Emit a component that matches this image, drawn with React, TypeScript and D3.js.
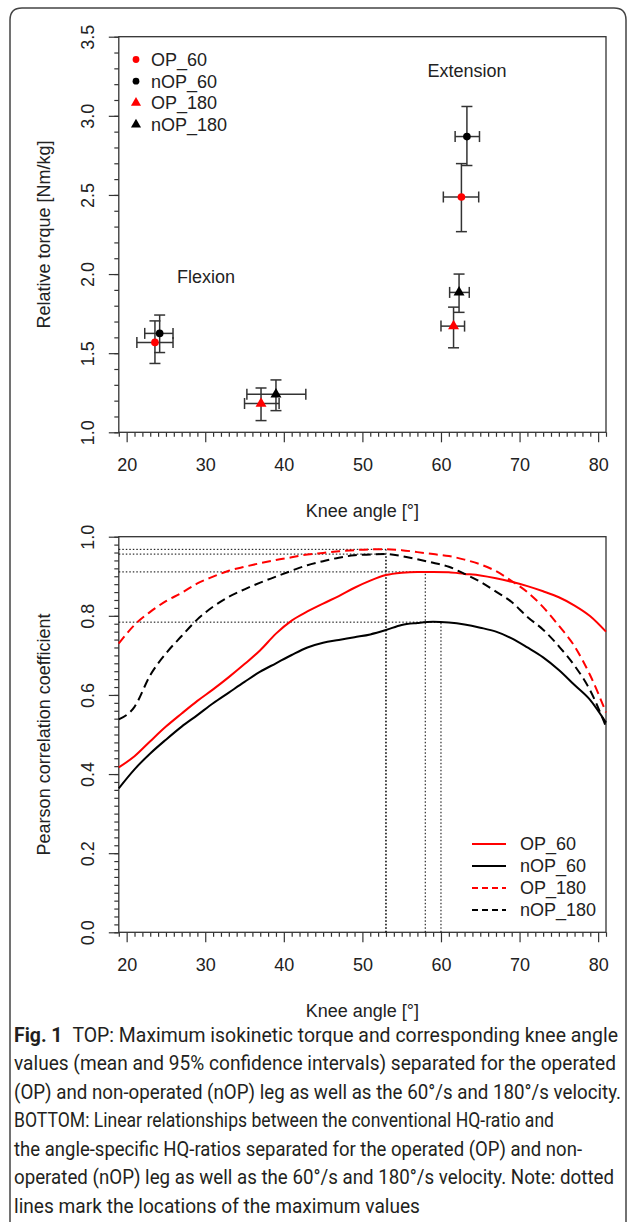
import { useEffect, useRef } from "react";
import * as d3 from "d3";

// ---- top panel: peak torque, mean and 95% CI ----
const groups = ["OP_60", "nOP_60", "OP_180", "nOP_180"];
const groupColor = ["#ff0000", "#000000", "#ff0000", "#000000"];
const groupShape = ["circle", "circle", "triangle", "triangle"];

const flexAngle = [23.6, 24.2, 37.1, 39.0];
const flexAngleLo = [21.3, 22.3, 35.0, 35.3];
const flexAngleHi = [25.9, 25.9, 39.4, 42.8];
const flexTorque = [1.568, 1.625, 1.182, 1.24];
const flexTorqueLo = [1.435, 1.504, 1.074, 1.137];
const flexTorqueHi = [1.704, 1.741, 1.28, 1.331];

const extAngle = [62.6, 63.3, 61.6, 62.3];
const extAngleLo = [60.3, 61.8, 60.0, 61.1];
const extAngleHi = [64.8, 64.9, 63.0, 63.6];
const extTorque = [2.487, 2.869, 1.671, 1.884];
const extTorqueLo = [2.268, 2.686, 1.534, 1.758];
const extTorqueHi = [2.698, 3.059, 1.791, 2.0];

const xTicks = [20, 30, 40, 50, 60, 70, 80];
const topYTicks = [1.0, 1.5, 2.0, 2.5, 3.0, 3.5];
const bottomYTicks = [0, 0.2, 0.4, 0.6, 0.8, 1.0];

// ---- bottom panel: correlation vs knee angle ----
const angles = [19, 21, 23, 25, 27, 29, 31, 33, 35, 37, 39, 41, 43, 45, 47, 49,
  51, 53, 55, 57, 59, 61, 63, 65, 67, 69, 71, 73, 75, 77, 79, 81];
const op60 = [0.417, 0.445, 0.483, 0.52, 0.553, 0.585, 0.614, 0.645, 0.678, 0.713, 0.755, 0.788, 0.811, 0.831, 0.85, 0.871,
  0.889, 0.903, 0.909, 0.911, 0.911, 0.91, 0.906, 0.902, 0.895, 0.886, 0.875, 0.862, 0.847, 0.826, 0.799, 0.76];
const nop60 = [0.364, 0.412, 0.452, 0.487, 0.52, 0.549, 0.579, 0.606, 0.633, 0.659, 0.68, 0.701, 0.72, 0.732, 0.739, 0.746,
  0.753, 0.764, 0.777, 0.782, 0.785, 0.783, 0.778, 0.77, 0.76, 0.743, 0.72, 0.695, 0.663, 0.625, 0.587, 0.53];
const op180 = [0.73, 0.777, 0.81, 0.837, 0.858, 0.882, 0.899, 0.914, 0.924, 0.933, 0.941, 0.948, 0.955, 0.959, 0.963, 0.966,
  0.968, 0.968, 0.966, 0.961, 0.956, 0.951, 0.942, 0.93, 0.913, 0.888, 0.86, 0.822, 0.775, 0.723, 0.649, 0.556];
const nop180 = [0.538, 0.57, 0.65, 0.705, 0.749, 0.791, 0.823, 0.848, 0.867, 0.884, 0.899, 0.914, 0.928, 0.938, 0.947, 0.953,
  0.955, 0.956, 0.951, 0.943, 0.934, 0.924, 0.906, 0.886, 0.861, 0.835, 0.797, 0.765, 0.723, 0.674, 0.611, 0.52];
const lineDash = [null, null, "9,5", "9,5"];
const maxAngle = [58, 60, 53, 53];
const maxR = [0.911, 0.784, 0.968, 0.956];

const caption = [
  "TOP: Maximum isokinetic torque and corresponding knee angle",
  "values (mean and 95% confidence intervals) separated for the operated",
  "(OP) and non-operated (nOP) leg as well as the 60°/s and 180°/s velocity.",
  "BOTTOM: Linear relationships between the conventional HQ-ratio and",
  "the angle-specific HQ-ratios separated for the operated (OP) and non-",
  "operated (nOP) leg as well as the 60°/s and 180°/s velocity. Note: dotted",
  "lines mark the locations of the maximum values",
];
const captionWidth = [604, 602, 607, 540, 568, 600, 406];

const FONT = "'Liberation Sans', Arial, sans-serif";
const AX = "#333";

export default function App() {
  const svgRef = useRef(null);

  useEffect(() => {
    const svg = d3.select(svgRef.current);
    svg.selectAll("*").remove();
    const width = 627, height = 1222;
    const left = 118.8, right = 606;

    svg.append("rect").attr("width", width).attr("height", height).attr("fill", "#fff");
    svg.append("path")
      .attr("d", "M10,1230 V20 Q10,8 22,8 H614 Q626,8 626,20 V1230")
      .attr("fill", "none").attr("stroke", "#444").attr("stroke-width", 1.5);

    const x = d3.scaleLinear().domain([19, 81]).range([left, right]);

    function panel(top, bottom, y, yTicks, yMinorStep, yLabel, fmt) {
      const g = svg.append("g");
      const yd = y.domain();
      // minor ticks
      const xMinor = d3.range(19, 82).filter(v => v % 10 !== 0);
      g.append("g").attr("transform", `translate(0,${bottom})`)
        .call(d3.axisBottom(x).tickValues(xMinor).tickSize(4.5).tickSizeOuter(0).tickFormat(() => ""));
      const yMinor = d3.range(Math.round((yd[1] - yd[0]) / yMinorStep) + 1).map(i => yd[0] + i * yMinorStep);
      g.append("g").attr("transform", `translate(${left},0)`)
        .call(d3.axisLeft(y).tickValues(yMinor).tickSize(4.5).tickSizeOuter(0).tickFormat(() => ""));

      const xa = g.append("g").attr("transform", `translate(0,${bottom})`)
        .call(d3.axisBottom(x).tickValues(xTicks).tickSize(10).tickSizeOuter(0).tickFormat(d3.format("d")));
      xa.selectAll("text").attr("y", 32.7).attr("dy", "0.35em");

      const ya = g.append("g").attr("transform", `translate(${left},0)`)
        .call(d3.axisLeft(y).tickValues(yTicks).tickSize(10).tickSizeOuter(0).tickFormat(d3.format(fmt)));
      ya.selectAll("text").attr("transform", "rotate(-90)").attr("x", 0).attr("y", -31)
        .attr("dy", "0.35em").attr("text-anchor", "middle");

      g.selectAll(".domain").remove();
      g.selectAll(".tick line").attr("stroke", AX).attr("stroke-width", 1.2);
      g.selectAll(".tick text").attr("fill", "#222").style("font-family", FONT).style("font-size", "18px");

      g.append("rect").attr("x", left).attr("y", top).attr("width", right - left).attr("height", bottom - top)
        .attr("fill", "none").attr("stroke", AX).attr("stroke-width", 1.3);

      svg.append("text").attr("x", (left + right) / 2).attr("y", bottom + 78).attr("dy", "0.35em")
        .attr("text-anchor", "middle").attr("fill", "#222")
        .style("font-family", FONT).style("font-size", "18px").text("Knee angle [°]");
      svg.append("text").attr("transform", `translate(44,${(top + bottom) / 2}) rotate(-90)`)
        .attr("dy", "0.35em").attr("text-anchor", "middle").attr("fill", "#222")
        .style("font-family", FONT).style("font-size", "18px").text(yLabel);
    }

    // ---------- top panel ----------
    const yTop = d3.scaleLinear().domain([1, 3.5]).range([432.3, 36.7]);
    panel(36.7, 432.3, yTop, topYTicks, 0.1, "Relative torque [Nm/kg]", ".1f");

    const sym = s => d3.symbol().type(s === "circle" ? d3.symbolCircle : d3.symbolTriangle).size(s === "circle" ? 46 : 52);
    const cap = 5.5;
    const pts = [];
    groups.forEach((grp, i) => {
      pts.push({ i, a: flexAngle[i], aLo: flexAngleLo[i], aHi: flexAngleHi[i], t: flexTorque[i], tLo: flexTorqueLo[i], tHi: flexTorqueHi[i] });
      pts.push({ i, a: extAngle[i], aLo: extAngleLo[i], aHi: extAngleHi[i], t: extTorque[i], tLo: extTorqueLo[i], tHi: extTorqueHi[i] });
    });
    const eb = svg.append("g").attr("stroke", "#333").attr("stroke-width", 1.5).attr("fill", "none");
    pts.forEach(p => {
      const cx = x(p.a), cy = yTop(p.t);
      eb.append("line").attr("x1", cx).attr("x2", cx).attr("y1", yTop(p.tLo)).attr("y2", yTop(p.tHi));
      eb.append("line").attr("x1", cx - cap).attr("x2", cx + cap).attr("y1", yTop(p.tLo)).attr("y2", yTop(p.tLo));
      eb.append("line").attr("x1", cx - cap).attr("x2", cx + cap).attr("y1", yTop(p.tHi)).attr("y2", yTop(p.tHi));
      eb.append("line").attr("x1", x(p.aLo)).attr("x2", x(p.aHi)).attr("y1", cy).attr("y2", cy);
      eb.append("line").attr("x1", x(p.aLo)).attr("x2", x(p.aLo)).attr("y1", cy - cap).attr("y2", cy + cap);
      eb.append("line").attr("x1", x(p.aHi)).attr("x2", x(p.aHi)).attr("y1", cy - cap).attr("y2", cy + cap);
    });
    pts.forEach(p => {
      svg.append("path").attr("d", sym(groupShape[p.i])())
        .attr("transform", `translate(${x(p.a)},${yTop(p.t)})`).attr("fill", groupColor[p.i]);
    });

    svg.append("text").attr("x", x(63.3)).attr("y", 70.7).attr("dy", "0.35em").attr("text-anchor", "middle")
      .attr("fill", "#222").style("font-family", FONT).style("font-size", "18px").text("Extension");
    svg.append("text").attr("x", x(30.1)).attr("y", 276.7).attr("dy", "0.35em").attr("text-anchor", "middle")
      .attr("fill", "#222").style("font-family", FONT).style("font-size", "18px").text("Flexion");

    groups.forEach((grp, i) => {
      const ly = 59.5 + i * 21.7;
      svg.append("path").attr("d", d3.symbol().type(groupShape[i] === "circle" ? d3.symbolCircle : d3.symbolTriangle)
        .size(groupShape[i] === "circle" ? 36 : 44)())
        .attr("transform", `translate(136,${ly})`).attr("fill", groupColor[i]);
      svg.append("text").attr("x", 151).attr("y", ly).attr("dy", "0.35em").attr("fill", "#222")
        .style("font-family", FONT).style("font-size", "18px").text(grp);
    });

    // ---------- bottom panel ----------
    const yBot = d3.scaleLinear().domain([0, 1]).range([932.3, 536.7]);
    panel(536.7, 932.3, yBot, bottomYTicks, 0.02, "Pearson correlation coefficient", ".1f");

    const dots = svg.append("g").attr("stroke", "#000").attr("stroke-width", 1).attr("stroke-dasharray", "1.5,2").attr("fill", "none");
    maxAngle.forEach((a, i) => {
      dots.append("line").attr("x1", x(19)).attr("x2", x(a)).attr("y1", yBot(maxR[i])).attr("y2", yBot(maxR[i]));
      dots.append("line").attr("x1", x(a)).attr("x2", x(a)).attr("y1", yBot(0)).attr("y2", yBot(maxR[i]));
    });

    const series = [op60, nop60, op180, nop180];
    const line = d3.line().x((d, i) => x(angles[i])).y(d => yBot(d)).curve(d3.curveMonotoneX);
    series.forEach((s, i) => {
      svg.append("path").datum(s).attr("d", line).attr("fill", "none")
        .attr("stroke", groupColor[i]).attr("stroke-width", 2)
        .attr("stroke-dasharray", lineDash[i]);
    });

    groups.forEach((grp, i) => {
      const ly = 844 + i * 22;
      svg.append("line").attr("x1", 472).attr("x2", 506).attr("y1", ly).attr("y2", ly)
        .attr("stroke", groupColor[i]).attr("stroke-width", 1.8).attr("stroke-dasharray", lineDash[i] ? "6,4" : null);
      svg.append("text").attr("x", 520).attr("y", ly).attr("dy", "0.35em").attr("fill", "#222")
        .style("font-family", FONT).style("font-size", "18px").text(grp);
    });

    // ---------- caption ----------
    const cg = svg.append("g").style("font-family", "Roboto, 'Noto Sans', sans-serif").style("font-size", "16.5px").attr("fill", "#231f20");
    caption.forEach((c, i) => {
      const t = cg.append("text")
        .attr("transform", `translate(14,${1041.5 + i * 28.5}) scale(1,1.18)`)
        .attr("textLength", captionWidth[i]).attr("lengthAdjust", "spacingAndGlyphs");
      if (i === 0) {
        t.append("tspan").style("font-weight", "bold").text("Fig. 1");
        t.append("tspan").text("\u2002" + c);
      } else {
        t.text(c);
      }
    });
  }, []);

  return <svg ref={svgRef} width={627} height={1222} style={{ position: "absolute", left: 0, top: 0 }} />;
}
